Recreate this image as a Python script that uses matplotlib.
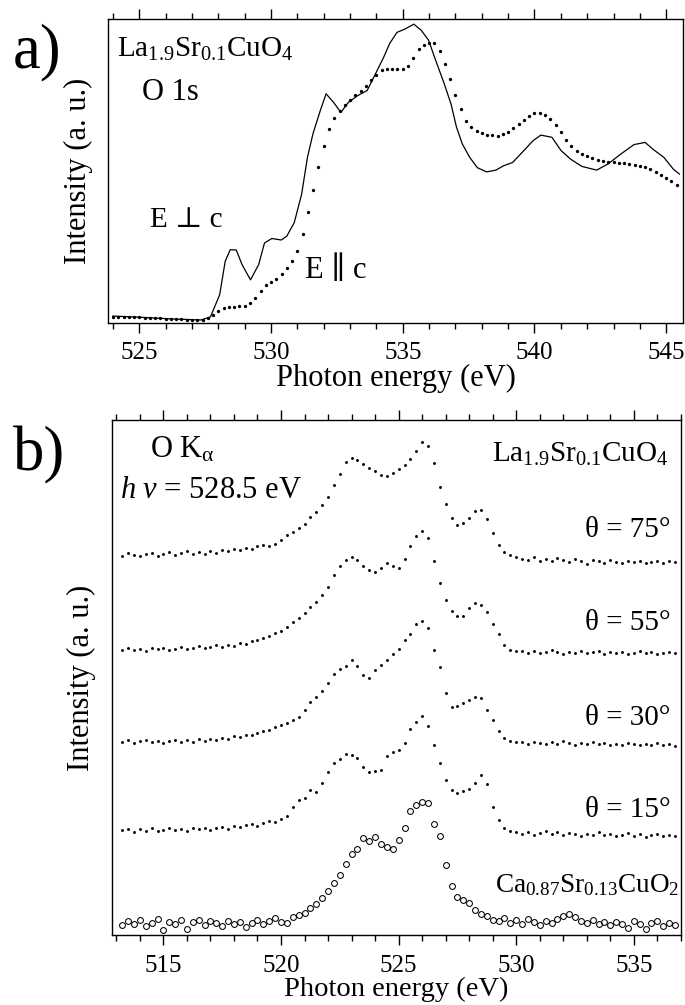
import numpy as np
import matplotlib
matplotlib.use("Agg")
import matplotlib.pyplot as plt
from matplotlib.ticker import MultipleLocator

plt.rcParams['font.family'] = ['Liberation Serif', 'DejaVu Serif']
plt.rcParams['mathtext.fontset'] = 'custom'
plt.rcParams['mathtext.rm'] = 'Liberation Serif'
plt.rcParams['mathtext.it'] = 'Liberation Serif:italic'

# ---- panel a: O 1s absorption, La1.9Sr0.1CuO4 ----
# E perp c (solid line)
perp_energy = [524.0, 525.0, 526.35, 527.34, 527.7, 528.05, 528.26, 528.45, 528.68,
               528.9, 529.22, 529.53, 529.75, 530.03, 530.39, 530.6, 530.88, 531.16,
               531.38, 531.59, 531.87, 532.09, 532.37, 532.65, 532.94, 533.29, 533.65,
               534.0, 534.28, 534.5, 534.78, 535.06, 535.42, 535.7, 535.98, 536.27,
               536.55, 536.83, 537.04, 537.26, 537.54, 537.83, 538.18, 538.54, 538.82,
               539.17, 539.53, 539.95, 540.24, 540.66, 541.01, 541.37, 541.8, 542.36,
               542.79, 543.28, 543.78, 544.2, 544.49, 544.91, 545.27, 545.5]
perp_int = [0.023, 0.019, 0.013, 0.010, 0.020, 0.093, 0.203, 0.241, 0.240,
            0.192, 0.142, 0.192, 0.263, 0.278, 0.273, 0.286, 0.330, 0.423,
            0.544, 0.622, 0.699, 0.754, 0.726, 0.693, 0.726, 0.748, 0.765,
            0.826, 0.875, 0.919, 0.956, 0.966, 0.983, 0.963, 0.930, 0.859,
            0.793, 0.721, 0.644, 0.589, 0.545, 0.511, 0.497, 0.503, 0.517,
            0.528, 0.561, 0.600, 0.618, 0.611, 0.567, 0.539, 0.515, 0.503,
            0.523, 0.556, 0.587, 0.594, 0.572, 0.545, 0.506, 0.490]

# E parallel c (dots), 0.2 eV steps from 524.0 eV
par_start = 524.0
par_step = 0.2
par_int = [0.021, 0.021, 0.020, 0.020, 0.019, 0.019, 0.018, 0.017, 0.016, 0.015,
           0.014, 0.013, 0.012, 0.012, 0.011, 0.011, 0.010, 0.011, 0.016, 0.027,
           0.040, 0.048, 0.052, 0.054, 0.055, 0.057, 0.067, 0.083, 0.104, 0.124,
           0.136, 0.146, 0.160, 0.181, 0.204, 0.238, 0.294, 0.364, 0.438, 0.512,
           0.582, 0.637, 0.675, 0.699, 0.718, 0.734, 0.749, 0.763, 0.780, 0.799,
           0.816, 0.831, 0.837, 0.837, 0.836, 0.837, 0.847, 0.872, 0.900, 0.916,
           0.922, 0.920, 0.895, 0.853, 0.803, 0.749, 0.703, 0.666, 0.645, 0.632,
           0.625, 0.620, 0.617, 0.616, 0.621, 0.629, 0.640, 0.654, 0.667, 0.682,
           0.691, 0.692, 0.683, 0.670, 0.651, 0.628, 0.603, 0.581, 0.566, 0.556,
           0.548, 0.542, 0.537, 0.533, 0.530, 0.528, 0.527, 0.525, 0.523, 0.520,
           0.516, 0.512, 0.505, 0.496, 0.487, 0.478, 0.467, 0.453]

# ---- panel b: O K-alpha emission, hv = 528.5 eV ----
emis_start = 513.25
emis_step = 0.25
theta75 = [0.736, 0.741, 0.737, 0.735, 0.739, 0.742, 0.736, 0.740, 0.744, 0.738,
           0.741, 0.745, 0.739, 0.743, 0.740, 0.746, 0.742, 0.748, 0.745, 0.750,
           0.747, 0.752, 0.749, 0.755, 0.757, 0.756, 0.760, 0.766, 0.776, 0.782,
           0.790, 0.798, 0.811, 0.822, 0.834, 0.851, 0.874, 0.895, 0.918, 0.927,
           0.922, 0.915, 0.906, 0.901, 0.894, 0.891, 0.897, 0.904, 0.913, 0.925,
           0.940, 0.958, 0.950, 0.917, 0.870, 0.836, 0.810, 0.797, 0.800, 0.809,
           0.824, 0.825, 0.808, 0.781, 0.758, 0.744, 0.737, 0.734, 0.731, 0.728,
           0.733, 0.727, 0.730, 0.726, 0.732, 0.728, 0.725, 0.731, 0.727, 0.721,
           0.729, 0.726, 0.723, 0.728, 0.725, 0.722, 0.727, 0.724, 0.726, 0.722,
           0.725, 0.727, 0.723, 0.726, 0.724]
theta55 = [0.553, 0.557, 0.554, 0.556, 0.552, 0.557, 0.555, 0.558, 0.554, 0.556,
           0.559, 0.555, 0.558, 0.561, 0.557, 0.560, 0.563, 0.559, 0.564, 0.562,
           0.567, 0.565, 0.570, 0.572, 0.576, 0.580, 0.586, 0.591, 0.598, 0.607,
           0.616, 0.625, 0.636, 0.647, 0.660, 0.676, 0.699, 0.716, 0.729, 0.733,
           0.728, 0.716, 0.709, 0.704, 0.712, 0.722, 0.716, 0.713, 0.731, 0.756,
           0.774, 0.784, 0.770, 0.727, 0.683, 0.650, 0.630, 0.620, 0.619, 0.634,
           0.644, 0.640, 0.628, 0.603, 0.584, 0.563, 0.554, 0.551, 0.552, 0.548,
           0.551, 0.547, 0.550, 0.553, 0.549, 0.546, 0.550, 0.548, 0.552, 0.547,
           0.549, 0.551, 0.546, 0.549, 0.547, 0.550, 0.546, 0.548, 0.551, 0.547,
           0.549, 0.546, 0.548, 0.550, 0.547]
theta30 = [0.374, 0.378, 0.373, 0.376, 0.379, 0.374, 0.377, 0.372, 0.376, 0.379,
           0.375, 0.378, 0.374, 0.380, 0.377, 0.381, 0.378, 0.383, 0.381, 0.386,
           0.384, 0.389, 0.388, 0.393, 0.396, 0.398, 0.403, 0.407, 0.411, 0.417,
           0.424, 0.436, 0.452, 0.462, 0.474, 0.490, 0.506, 0.516, 0.523, 0.534,
           0.522, 0.504, 0.499, 0.515, 0.525, 0.533, 0.545, 0.556, 0.572, 0.585,
           0.603, 0.609, 0.596, 0.553, 0.520, 0.470, 0.443, 0.444, 0.451, 0.456,
           0.462, 0.460, 0.437, 0.418, 0.397, 0.383, 0.377, 0.375, 0.374, 0.371,
           0.375, 0.372, 0.370, 0.374, 0.371, 0.376, 0.372, 0.369, 0.373, 0.371,
           0.374, 0.370, 0.373, 0.368, 0.371, 0.369, 0.372, 0.370, 0.368, 0.371,
           0.369, 0.372, 0.368, 0.370, 0.367]
theta15 = [0.203, 0.206, 0.200, 0.205, 0.202, 0.207, 0.201, 0.204, 0.208, 0.203,
           0.206, 0.202, 0.207, 0.205, 0.208, 0.204, 0.207, 0.209, 0.206, 0.211,
           0.209, 0.213, 0.215, 0.212, 0.218, 0.222, 0.219, 0.226, 0.231, 0.248,
           0.262, 0.266, 0.281, 0.277, 0.296, 0.316, 0.333, 0.341, 0.352, 0.349,
           0.343, 0.327, 0.317, 0.319, 0.321, 0.348, 0.355, 0.360, 0.372, 0.399,
           0.414, 0.426, 0.405, 0.368, 0.333, 0.300, 0.281, 0.276, 0.279, 0.283,
           0.295, 0.311, 0.293, 0.249, 0.224, 0.208, 0.201, 0.199, 0.197, 0.200,
           0.195, 0.198, 0.201, 0.196, 0.199, 0.194, 0.198, 0.196, 0.193, 0.197,
           0.195, 0.199, 0.194, 0.196, 0.192, 0.195, 0.198, 0.193, 0.196, 0.191,
           0.194, 0.197, 0.192, 0.195, 0.193]
ca_sr = [0.020, 0.028, 0.022, 0.030, 0.018, 0.024, 0.031, 0.010, 0.026, 0.021,
         0.029, 0.012, 0.025, 0.030, 0.019, 0.027, 0.023, 0.017, 0.028, 0.022,
         0.026, 0.015, 0.024, 0.029, 0.021, 0.027, 0.033, 0.026, 0.024, 0.034,
         0.039, 0.043, 0.052, 0.061, 0.071, 0.086, 0.101, 0.116, 0.138, 0.157,
         0.166, 0.188, 0.182, 0.190, 0.176, 0.170, 0.166, 0.185, 0.208, 0.240,
         0.252, 0.258, 0.256, 0.215, 0.193, 0.135, 0.095, 0.073, 0.068, 0.063,
         0.048, 0.040, 0.036, 0.030, 0.027, 0.033, 0.024, 0.029, 0.022, 0.031,
         0.026, 0.020, 0.028, 0.024, 0.031, 0.036, 0.040, 0.035, 0.027, 0.023,
         0.029, 0.021, 0.026, 0.019, 0.025, 0.022, 0.014, 0.027, 0.021, 0.012,
         0.024, 0.028, 0.018, 0.023, 0.020]

angle_labels = ['θ = 75°', 'θ = 55°', 'θ = 30°', 'θ = 15°']
angle_label_y = [0.773, 0.592, 0.408, 0.229]

TXT = 21
TICK = 18
LAB = 22


def style_axis(ax, xlim, pad):
    ax.set_xlim(*xlim)
    ax.set_ylim(0, 1)
    ax.xaxis.set_major_locator(MultipleLocator(5))
    ax.xaxis.set_minor_locator(MultipleLocator(1))
    ax.tick_params(axis='x', which='both', direction='out', top=True,
                   labeltop=False, width=1.0, labelsize=TICK, pad=pad)
    ax.tick_params(axis='x', which='major', length=7.5)
    ax.tick_params(axis='x', which='minor', length=4)
    ax.set_yticks([])
    for s in ax.spines.values():
        s.set_linewidth(1.0)


fig = plt.figure(figsize=(6.85, 10.05), dpi=100)

# panel a
ax1 = fig.add_axes([0.158, 0.6786, 0.8388, 0.3025])
par_energy = par_start + par_step * np.arange(len(par_int))
ax1.plot(perp_energy, perp_int, color='black', lw=0.9)
ax1.plot(par_energy, par_int, 'o', color='black', ms=2.4, mew=0)
style_axis(ax1, (523.82, 545.63), 6)
ax1.set_xlabel('Photon energy (eV)', fontsize=LAB)
ax1.xaxis.set_label_coords(0.5, -0.133)
ax1.set_ylabel('Intensity (a. u.)', fontsize=LAB)
ax1.yaxis.set_label_coords(-0.027, 0.5)

ax1.text(0.015, 0.875, r'$\mathrm{La_{1.9}Sr_{0.1}CuO_4}$', transform=ax1.transAxes,
         fontsize=TXT, va='baseline')
ax1.text(0.059, 0.734, 'O 1s', transform=ax1.transAxes, fontsize=TXT + 1, va='baseline')
ax1.text(0.073, 0.316, 'E ⊥ c', transform=ax1.transAxes, fontsize=TXT, va='baseline')
ax1.text(0.342, 0.148, 'E ∥ c', transform=ax1.transAxes, fontsize=TXT + 1, va='baseline')

# panel b
ax2 = fig.add_axes([0.163, 0.0697, 0.831, 0.5124])
emis_energy = emis_start + emis_step * np.arange(len(theta75))
for spec in [theta75, theta55, theta30, theta15]:
    ax2.plot(emis_energy, spec, 'o', color='black', ms=2.1, mew=0)
ax2.plot(emis_energy, ca_sr, 'o', mfc='none', mec='black', ms=4.2, mew=0.75)
style_axis(ax2, (512.8, 537.0), 7)
ax2.set_xlabel('Photon energy (eV)', fontsize=LAB - 1.5)
ax2.xaxis.set_label_coords(0.5, -0.0816)
ax2.set_ylabel('Intensity (a. u.)', fontsize=LAB)
ax2.yaxis.set_label_coords(-0.028, 0.5)

ax2.text(0.067, 0.928, r'O K$_{\mathrm{α}}$', transform=ax2.transAxes,
         fontsize=TXT + 1, va='baseline')
ax2.text(0.015, 0.849, r'$h\ \nu$ = 528.5 eV', transform=ax2.transAxes,
         fontsize=TXT + 1, va='baseline')
ax2.text(0.979, 0.918, r'$\mathrm{La_{1.9}Sr_{0.1}CuO_4}$', transform=ax2.transAxes,
         fontsize=TXT, va='baseline', ha='right')
for lbl, yy in zip(angle_labels, angle_label_y):
    ax2.text(0.982, yy, lbl, transform=ax2.transAxes, fontsize=TXT,
             va='baseline', ha='right')
ax2.text(0.9975, 0.0835, r'$\mathrm{Ca_{0.87}Sr_{0.13}CuO_2}$', transform=ax2.transAxes,
         fontsize=TXT - 1.5, va='baseline', ha='right')

fig.text(0.019, 1 - 67 / 1005, 'a)', fontsize=45, va='baseline')
fig.text(0.019, 1 - 470 / 1005, 'b)', fontsize=45, va='baseline')

fig.savefig('out.png', dpi=100)
